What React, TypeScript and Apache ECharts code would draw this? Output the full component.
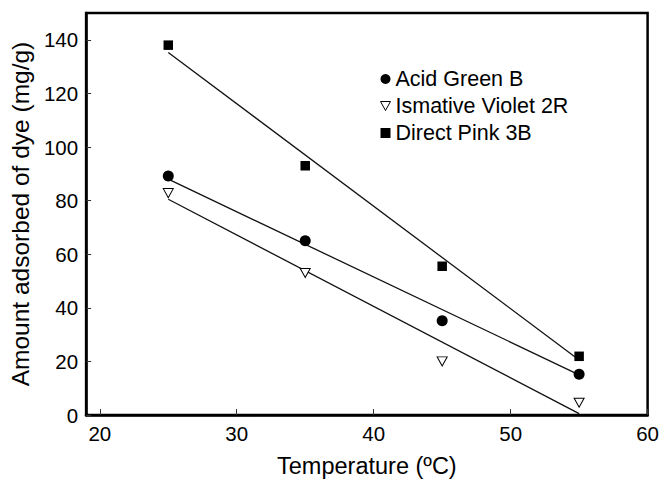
import React, { useEffect, useRef } from "react";
import * as echarts from "echarts";

const temperatures = [25, 35, 45, 55];
const acidGreenB = [89.2, 65, 35.2, 15.2];
const ismativeViolet2R = [82.8, 53, 20, 4.6];
const directPink3B = [138, 93, 55.5, 21.9];

const fitX = [25, 55];
const acidGreenFit = [88, 15];
const ismativeVioletFit = [80.5, 0.5];
const directPinkFit = [135.3, 20.5];

const xTicks = [20, 30, 40, 50, 60];
const yTicks = [0, 20, 40, 60, 80, 100, 120, 140];

const FONT = "'Liberation Sans', Arial, Helvetica, sans-serif";

function pairs(xs: number[], ys: number[]) {
  return xs.map((x, i) => [x, ys[i]]);
}

export default function App() {
  const ref = useRef<HTMLDivElement>(null);
  useEffect(() => {
    if (!ref.current) return;
    const chart = echarts.init(ref.current, undefined, { renderer: "svg" });
    const lineStyle = { color: "#111", width: 1.3 };
    const fitSeries = (name: string, ys: number[]) => ({
      name,
      type: "line",
      data: pairs(fitX, ys),
      showSymbol: false,
      symbol: "none",
      lineStyle,
      silent: true,
      z: 2,
    });
    chart.setOption({
      animation: false,
      backgroundColor: "#ffffff",
      textStyle: { fontFamily: FONT, color: "#000" },
      grid: {
        left: 83,
        right: 14,
        top: 13,
        bottom: 64,
        show: true,
        borderColor: "#000",
        borderWidth: 2.5,
        containLabel: false,
      },
      legend: {
        orient: "vertical",
        left: 375,
        top: 63,
        itemWidth: 10,
        itemHeight: 10,
        itemGap: 5,
        itemTextGap: 12,
        textStyle: { fontSize: 21.5, color: "#000", fontFamily: FONT },
        data: [
          { name: "Acid Green B", icon: "circle", itemStyle: { color: "#000", opacity: 1 } },
          {
            name: "Ismative Violet 2R",
            icon: "path://M0,0 L10,0 L5,9 Z",
            itemStyle: { color: "#fff", borderColor: "#000", borderWidth: 1, opacity: 1 },
          },
          { name: "Direct Pink 3B", icon: "rect", itemStyle: { color: "#000", opacity: 1 } },
        ],
      },
      xAxis: {
        type: "value",
        min: 19,
        max: 60,
        name: "Temperature (\u00BAC)",
        nameLocation: "middle",
        nameGap: 39,
        nameTextStyle: { fontSize: 23.5, color: "#000", fontFamily: FONT },
        axisLine: { show: true, lineStyle: { color: "#000", width: 2.5 } },
        axisTick: {
          show: true,
          inside: true,
          length: 6,
          customValues: xTicks,
          lineStyle: { color: "#333", width: 1 },
        },
        axisLabel: {
          fontSize: 20.5,
          color: "#000",
          margin: 8,
          customValues: xTicks,
          fontFamily: FONT,
        },
        splitLine: { show: false },
      },
      yAxis: {
        type: "value",
        min: 0,
        max: 150,
        name: "Amount adsorbed of dye (mg/g)",
        nameLocation: "middle",
        nameGap: 48,
        nameTextStyle: { fontSize: 24.5, color: "#000", fontFamily: FONT },
        axisLine: { show: true, lineStyle: { color: "#000", width: 2.5 } },
        axisTick: {
          show: true,
          inside: true,
          length: 5,
          customValues: yTicks,
          lineStyle: { color: "#333", width: 1 },
        },
        axisLabel: {
          fontSize: 20.5,
          color: "#000",
          margin: 8,
          customValues: yTicks,
          fontFamily: FONT,
        },
        splitLine: { show: false },
      },
      series: [
        fitSeries("fit-green", acidGreenFit),
        fitSeries("fit-violet", ismativeVioletFit),
        fitSeries("fit-pink", directPinkFit),
        {
          name: "Acid Green B",
          type: "scatter",
          data: pairs(temperatures, acidGreenB),
          symbol: "circle",
          symbolSize: 11,
          itemStyle: { color: "#000", opacity: 1 },
          z: 5,
        },
        {
          name: "Ismative Violet 2R",
          type: "scatter",
          data: pairs(temperatures, ismativeViolet2R),
          symbol: "path://M0,0 L10,0 L5,9 Z",
          symbolSize: [10, 9],
          itemStyle: { color: "#fff", borderColor: "#000", borderWidth: 1, opacity: 1 },
          z: 5,
        },
        {
          name: "Direct Pink 3B",
          type: "scatter",
          data: pairs(temperatures, directPink3B),
          symbol: "rect",
          symbolSize: 9.5,
          itemStyle: { color: "#000", opacity: 1 },
          z: 5,
        },
      ],
    });
    return () => chart.dispose();
  }, []);
  return (
    <div
      ref={ref}
      style={{ position: "fixed", left: 0, top: 0, width: 662, height: 483, background: "#fff" }}
    />
  );
}
